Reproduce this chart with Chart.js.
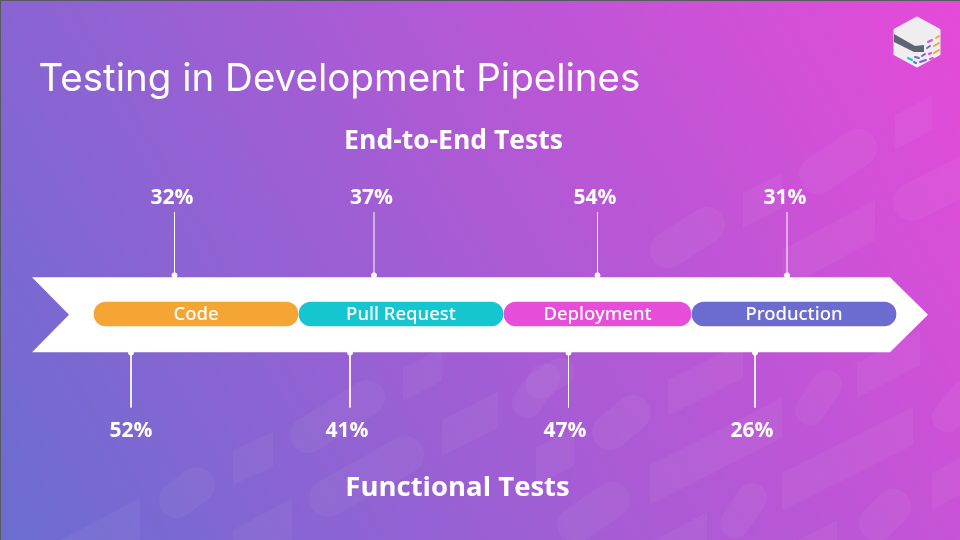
<!DOCTYPE html>
<html>
<head>
<meta charset="utf-8">
<title>Testing in Development Pipelines</title>
<script src="https://cdn.jsdelivr.net/npm/chart.js@4"></script>
<style>
  html, body { margin: 0; padding: 0; background: #8a5fd0; }
  #wrap { width: 960px; height: 540px; }
</style>
</head>
<body>
<div id="wrap"><canvas id="myChart" width="960" height="540"></canvas></div>
<script>
// chart data
const chartTitle = 'Testing in Development Pipelines';
const stages = ['Code', 'Pull Request', 'Deployment', 'Production'];
const stageLengths = [204, 204, 187, 204];
const endToEndName = 'End-to-End Tests';
const endToEndValues = [32, 37, 54, 31];
const functionalName = 'Functional Tests';
const functionalValues = [52, 41, 47, 26];

// colours
const stageColors = ['#f4a533', '#15c5cf', '#e64dd8', '#6c6bd0'];

// where the leaders sit along the pipeline (x axis units) and how far they reach
const endToEndLeaders = [80.5, 280, 503.5, 693];
const functionalLeaders = [37, 256, 474.5, 661];
const endToEndNudge = [-2.5, -2.5, -2.5, -2];
const functionalNudge = [0, -3, -3.5, -3];
const leaderTop = [38.7, 102];
const leaderBottom = [-38.7, -93.5];

// soft shapes behind the chart: stadiums are [x1, y1, x2, y2, radius]
const stadiums = [
  [818, 175, 858, 148, 19], [668, 250, 707, 225, 18], [912, 202, 975, 170, 19],
  [308, 435, 367, 398, 18], [177, 500, 197, 485, 18], [328, 498, 405, 455, 19],
  [527, 403, 545, 378, 15], [610, 432, 633, 413, 18], [810, 410, 827, 385, 15],
  [575, 525, 612, 500, 18], [735, 523, 752, 498, 15], [877, 523, 893, 507, 18],
  [947, 417, 965, 395, 15], [540, 385, 560, 372, 14]
];
const slabs = [
  [895, 115, 932, 95, 35], [743, 193, 782, 173, 35], [782, 250, 875, 200, 40],
  [403, 368, 442, 348, 33], [233, 450, 273, 432, 35], [60, 540, 140, 498, 42],
  [233, 530, 292, 498, 42], [442, 420, 498, 392, 36], [536, 448, 574, 428, 38],
  [668, 380, 743, 342, 36], [650, 465, 782, 398, 40], [782, 473, 913, 407, 38],
  [655, 540, 707, 512, 30], [798, 540, 837, 520, 20], [932, 473, 960, 458, 37],
  [857, 363, 920, 330, 35]
];

// floating bars laid end to end along the pipeline
function buildStageBars(){
    var start = 0;
    return stageLengths.map(function(len){
        var bar = {x: [start, start + len], y: 0};
        start += len + 1;
        return bar;
    });
}

// leader lines, a gap between each one
function buildLeaders(positions, reach){
    var pts = [];
    positions.forEach(function(x){
        pts.push({x: x, y: reach[0]});
        pts.push({x: x, y: reach[1]});
        pts.push({x: x, y: NaN});
    });
    return pts;
}

function drawBackground(ctx){
    var g = ctx.createLinearGradient(0, 540, 951, -21);
    g.addColorStop(0, '#6a6dd0');
    g.addColorStop(1, '#e64ad9');
    ctx.fillStyle = g;
    ctx.fillRect(0, 0, 960, 540);

    ctx.fillStyle = 'rgba(255,255,255,0.045)';
    slabs.forEach(function(s){
        ctx.beginPath();
        ctx.moveTo(s[0], s[1]);
        ctx.lineTo(s[2], s[3]);
        ctx.lineTo(s[2], s[3] + s[4]);
        ctx.lineTo(s[0], s[1] + s[4]);
        ctx.closePath();
        ctx.fill();
    });
    ctx.strokeStyle = 'rgba(255,255,255,0.045)';
    ctx.lineCap = 'round';
    stadiums.forEach(function(s){
        ctx.lineWidth = s[4] * 2;
        ctx.beginPath();
        ctx.moveTo(s[0], s[1]);
        ctx.lineTo(s[2], s[3]);
        ctx.stroke();
    });
    ctx.lineCap = 'butt';

    // thin dark edge of the slide
    ctx.fillStyle = '#555a60';
    ctx.fillRect(0, 0, 960, 1);
    ctx.fillRect(0, 0, 1, 540);
}

function polygon(ctx, pts, color){
    ctx.fillStyle = color;
    ctx.beginPath();
    pts.forEach(function(p, i){
        if(i === 0) ctx.moveTo(p[0], p[1]);
        else ctx.lineTo(p[0], p[1]);
    });
    ctx.closePath();
    ctx.fill();
}

function drawLogo(ctx){
    ctx.save();
    ctx.lineJoin = 'round';
    ctx.lineWidth = 3;
    ctx.strokeStyle = '#eeeef0';
    var body = [[917, 18], [939, 30], [939, 54], [917, 66], [895, 54], [895, 30]];
    polygon(ctx, body, '#eeeef0');
    ctx.beginPath();
    body.forEach(function(p, i){ i ? ctx.lineTo(p[0], p[1]) : ctx.moveTo(p[0], p[1]); });
    ctx.closePath();
    ctx.stroke();
    polygon(ctx, [[894, 34], [915, 46], [924, 45], [924, 52], [914, 52], [894, 42]], '#5d6472');
    var dashes = [
      [928, 42, 932, 40, '#e64dd8'], [936, 38, 939, 36, '#f4a533'], [927, 48, 930, 46, '#7a5fd8'],
      [934, 46, 939, 43, '#f4a533'], [922, 56, 925, 54, '#7a5fd8'], [929, 54, 931, 53, '#e64dd8'],
      [934, 53, 939, 50, '#f4a533'], [908, 58, 912, 60, '#17c5d8'], [915, 57, 919, 58, '#6c6bd0'],
      [920, 62, 926, 60, '#7a5fd8'], [914, 62, 916, 63, '#6c6bd0'], [930, 59, 933, 58, '#e64dd8']
    ];
    ctx.lineWidth = 2;
    ctx.lineCap = 'round';
    dashes.forEach(function(d){
        ctx.strokeStyle = d[4];
        ctx.beginPath();
        ctx.moveTo(d[0], d[1]);
        ctx.lineTo(d[2], d[3]);
        ctx.stroke();
    });
    ctx.restore();
}

// white arrow behind the stage bars, placed through the scales
function drawArrow(chart){
    var x = chart.scales.x, y = chart.scales.y;
    var outline = [[-62, 36.8], [796, 36.8], [834, -0.7], [796, -38.2], [-62, -38.2], [-25, -0.7]];
    polygon(chart.ctx, outline.map(function(p){
        return [x.getPixelForValue(p[0]), y.getPixelForValue(p[1])];
    }), '#ffffff');
}

function drawLabel(ctx, text, px, py, font){
    ctx.font = font;
    ctx.fillStyle = '#ffffff';
    ctx.textAlign = 'center';
    ctx.textBaseline = 'middle';
    ctx.fillText(text, px, py);
}

const pipelinePlugin = {
    id: 'pipeline',
    beforeDraw: function(chart){
        drawBackground(chart.ctx);
        drawLogo(chart.ctx);
    },
    beforeDatasetsDraw: function(chart){
        drawArrow(chart);
    },
    afterDatasetsDraw: function(chart){
        var ctx = chart.ctx;
        var y = chart.scales.y;

        // stage names on the bars
        chart.getDatasetMeta(0).data.forEach(function(bar, i){
            var c = bar.getCenterPoint();
            drawLabel(ctx, stages[i], c.x, c.y + 1, '500 18.5px "Noto Sans"');
        });

        // percentages past the far end of each leader
        chart.getDatasetMeta(1).data.forEach(function(pt, i){
            if(i % 3 !== 1) return;
            var k = (i - 1) / 3;
            drawLabel(ctx, endToEndValues[k] + '%', pt.x + endToEndNudge[k], y.getPixelForValue(116), '700 21px "Open Sans"');
        });
        chart.getDatasetMeta(2).data.forEach(function(pt, i){
            if(i % 3 !== 1) return;
            var k = (i - 1) / 3;
            drawLabel(ctx, functionalValues[k] + '%', pt.x + functionalNudge[k], y.getPixelForValue(-117), '700 21px "Open Sans"');
        });

        drawLabel(ctx, endToEndName, 453.5, y.getPixelForValue(173), '700 26.5px "Open Sans"');
        drawLabel(ctx, functionalName, 457.5, y.getPixelForValue(-174), '700 27.5px "Open Sans"');
    }
};

var ctx = document.getElementById('myChart').getContext('2d');
var chart = new Chart(ctx, {
    type: 'bar',
    data: {
        labels: stages,
        datasets: [
            {
                type: 'bar',
                label: 'Stages',
                indexAxis: 'y',
                data: buildStageBars(),
                backgroundColor: stageColors,
                barThickness: 24,
                borderRadius: 12,
                borderSkipped: false
            },
            {
                type: 'scatter',
                label: endToEndName,
                data: buildLeaders(endToEndLeaders, leaderTop),
                showLine: true,
                spanGaps: false,
                borderColor: '#ffffff',
                borderWidth: 1,
                backgroundColor: '#ffffff',
                pointRadius: function(c){ return c.dataIndex % 3 === 0 ? 2.5 : 0; }
            },
            {
                type: 'scatter',
                label: functionalName,
                data: buildLeaders(functionalLeaders, leaderBottom),
                showLine: true,
                spanGaps: false,
                borderColor: '#ffffff',
                borderWidth: 1,
                backgroundColor: '#ffffff',
                pointRadius: function(c){ return c.dataIndex % 3 === 0 ? 2.5 : 0; }
            }
        ]
    },
    options: {
        responsive: false,
        animation: false,
        events: [],
        layout: { autoPadding: false, padding: { left: 38.5, right: 0, top: 0, bottom: 0 } },
        scales: {
            x: { type: 'linear', display: false, offset: false, min: -55.5, max: 866 },
            y: { type: 'linear', display: false, offset: false, min: -226, max: 211.8 }
        },
        plugins: {
            legend: { display: false },
            tooltip: { enabled: false },
            title: {
                display: true,
                text: chartTitle,
                align: 'start',
                color: '#ffffff',
                font: { family: 'Inter', size: 38.5, weight: '400', lineHeight: 1.2 },
                padding: { top: 56, bottom: 0 }
            }
        }
    },
    plugins: [pipelinePlugin]
});
</script>
</body>
</html>
